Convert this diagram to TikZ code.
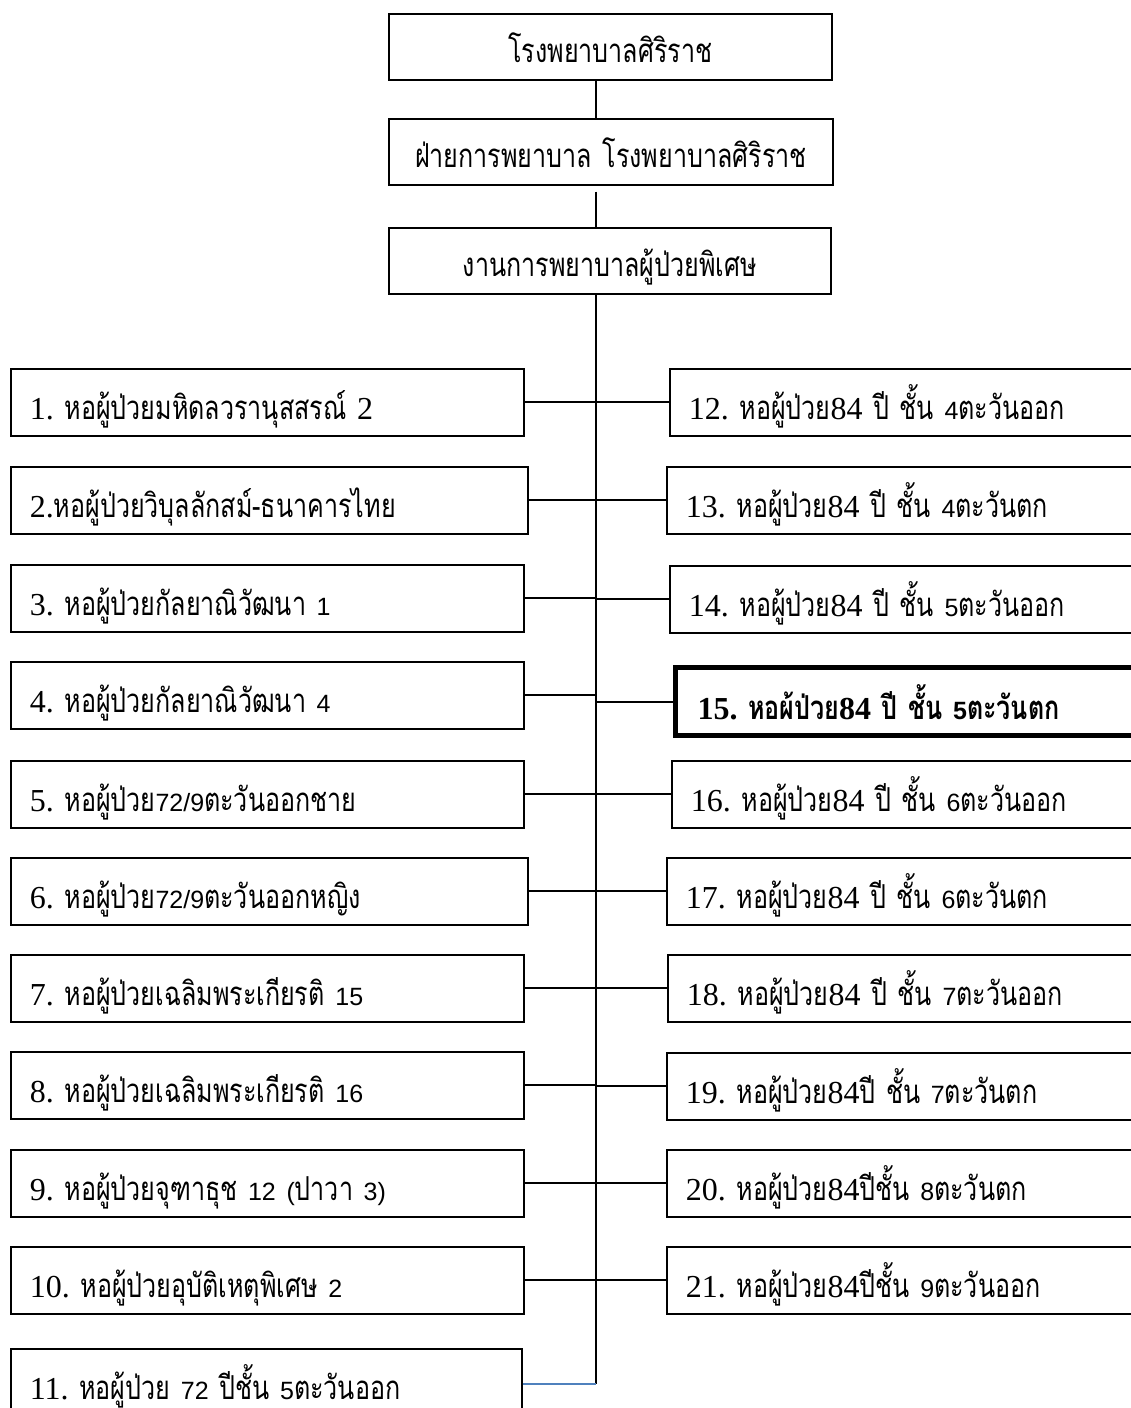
\documentclass[tikz,border=0pt]{standalone}
\usepackage{fontspec}
\setmainfont{Liberation Serif}
\newfontfamily\thf[Script=Thai,FakeStretch=0.76]{Loma}
\newfontfamily\sfd{Liberation Sans}
\newcommand\tht[1]{{\thf\fontsize{33}{38}\selectfont #1}}
\newcommand\dgs[1]{{\sfd\fontsize{25}{30}\selectfont #1}}
\definecolor{linkblue}{HTML}{4F81BD}
\frenchspacing
\tikzset{
  unitbox/.style={draw, line width=1.7pt, rectangle, anchor=north west,
    inner xsep=19pt, inner ysep=0pt, minimum height=67pt,
    text height=45pt, text depth=10pt, align=left,
    font=\fontsize{32}{36}\selectfont},
  lbox/.style={unitbox, text width=#1},
  rbox/.style={unitbox, text width=560pt},
  headbox/.style={draw, line width=1.7pt, rectangle, anchor=north west,
    inner xsep=0pt, inner ysep=0pt, minimum height=66pt,
    text height=42pt, text depth=10pt, align=center,
    font=\fontsize{32}{36}\selectfont},
  conn/.style={line width=2pt, draw=black},
  blueconn/.style={line width=1.6pt, draw=linkblue}
}
\begin{document}
\begin{tikzpicture}[x=1pt,y=-1pt]
\useasboundingbox (0,0) rectangle (1131,1408);
\clip (0,0) rectangle (1131,1408);
\fill[white] (0,0) rectangle (1131,1408);
\coordinate (sp) at (596,293);
\coordinate (spend) at (596,1384);
% heads
\node[headbox, minimum width=443pt, text width=443pt] (hosp) at (388,13) {\tht{โรงพยาบาลศิริราช}};
\node[headbox, minimum width=444pt, text width=444pt] (dept) at (388,118) {\tht{ฝ่ายการพยาบาล โรงพยาบาลศิริราช}};
\node[headbox, minimum width=442pt, text width=442pt] (unit) at (388,227) {\tht{งานการพยาบาลผู้ป่วยพิเศษ}};
% left boxes
\node[lbox=475pt] (l1) at (10,368) {1. \tht{หอผู้ป่วยมหิดลวรานุสสรณ์} 2};
\node[lbox=479pt] (l2) at (10,466) {2.\tht{หอผู้ป่วยวิบุลลักสม์-ธนาคารไทย}};
\node[lbox=475pt] (l3) at (10,564) {3. \tht{หอผู้ป่วยกัลยาณิวัฒนา} \dgs{1}};
\node[lbox=475pt] (l4) at (10,661) {4. \tht{หอผู้ป่วยกัลยาณิวัฒนา} \dgs{4}};
\node[lbox=475pt] (l5) at (10,760) {5. \tht{หอผู้ป่วย}\dgs{72/9}\tht{ตะวันออกชาย}};
\node[lbox=479pt] (l6) at (10,857) {6. \tht{หอผู้ป่วย}\dgs{72/9}\tht{ตะวันออกหญิง}};
\node[lbox=475pt] (l7) at (10,954) {7. \tht{หอผู้ป่วยเฉลิมพระเกียรติ} \dgs{15}};
\node[lbox=475pt] (l8) at (10,1051) {8. \tht{หอผู้ป่วยเฉลิมพระเกียรติ} \dgs{16}};
\node[lbox=475pt] (l9) at (10,1149) {9. \tht{หอผู้ป่วยจุฑาธุช} \dgs{12 (}\tht{ปาวา}\dgs{ 3)}};
\node[lbox=475pt] (l10) at (10,1246) {10. \tht{หอผู้ป่วยอุบัติเหตุพิเศษ} \dgs{2}};
\node[lbox=473pt] (l11) at (10,1348) {11. \tht{หอผู้ป่วย} \dgs{72} \tht{ปีชั้น} \dgs{5}\tht{ตะวันออก}};
% right boxes
\node[rbox] (r12) at (669,368) {12. \tht{หอผู้ป่วย}84 \tht{ปี ชั้น} \dgs{4}\tht{ตะวันออก}};
\node[rbox] (r13) at (666,466) {13. \tht{หอผู้ป่วย}84 \tht{ปี ชั้น} \dgs{4}\tht{ตะวันตก}};
\node[rbox] (r14) at (669,565) {14. \tht{หอผู้ป่วย}84 \tht{ปี ชั้น} \dgs{5}\tht{ตะวันออก}};
\node[rbox, line width=5pt, inner xsep=22pt, minimum height=68pt, font=\bfseries\fontsize{32}{36}\selectfont] (r15) at (673,665) {15. \tht{\bfseries หอผ้ป่วย}84 \tht{\bfseries ปี ชั้น} {\sfd\bfseries\fontsize{25}{30}\selectfont 5}\tht{\bfseries ตะวันตก}};
\node[rbox] (r16) at (671,760) {16. \tht{หอผู้ป่วย}84 \tht{ปี ชั้น} \dgs{6}\tht{ตะวันออก}};
\node[rbox] (r17) at (666,857) {17. \tht{หอผู้ป่วย}84 \tht{ปี ชั้น} \dgs{6}\tht{ตะวันตก}};
\node[rbox] (r18) at (667,954) {18. \tht{หอผู้ป่วย}84 \tht{ปี ชั้น} \dgs{7}\tht{ตะวันออก}};
\node[rbox] (r19) at (666,1052) {19. \tht{หอผู้ป่วย}84\tht{ปี ชั้น} \dgs{7}\tht{ตะวันตก}};
\node[rbox] (r20) at (666,1149) {20. \tht{หอผู้ป่วย}84\tht{ปีชั้น} \dgs{8}\tht{ตะวันตก}};
\node[rbox] (r21) at (666,1246) {21. \tht{หอผู้ป่วย}84\tht{ปีชั้น} \dgs{9}\tht{ตะวันออก}};
% spine
\draw[conn] (hosp.south -| sp) -- (dept.north -| sp);
\draw[conn, shorten <=6pt] (dept.south -| sp) -- (unit.north -| sp);
\draw[conn] (unit.south -| sp) -- (spend);
% left connectors
\foreach \n in {l1,l2,l3,l4,l5,l6,l7,l8,l9,l10}
  \draw[conn] (\n.east) -- (\n.east -| sp);
\draw[blueconn] (l11.east |- spend) -- (spend);
% right connectors
\foreach \n in {r12,r13,r14,r15,r16,r17,r18,r19,r20,r21}
  \draw[conn] (\n.west -| sp) -- (\n.west);
\end{tikzpicture}
\end{document}
